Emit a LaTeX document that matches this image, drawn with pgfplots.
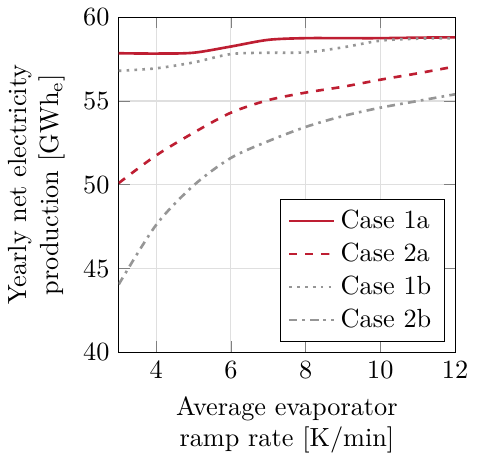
\documentclass[border=0pt]{standalone}
\usepackage{pgfplots}
\pgfplotsset{compat=1.18}
\definecolor{myred}{RGB}{190,30,50}
\definecolor{mygray}{RGB}{150,150,150}
\begin{document}
\begin{tikzpicture}
\begin{axis}[
  width=128pt, height=127.5pt, scale only axis,
  xmin=3, xmax=12, ymin=40, ymax=60,
  xtick={4,6,8,10,12}, ytick={40,45,50,55,60},
  grid=major, grid style={gray!25},
  xlabel={Average evaporator\\ramp rate [K/min]},
  ylabel={Yearly net electricity\\production [GWh$_\mathrm{e}$]},
  xlabel style={align=center},
  ylabel style={align=center},
  legend pos=south east,
  legend cell align=left,
  legend style={draw=black, fill=white},
  every axis plot/.append style={line width=1pt},
]
\addplot[myred, smooth] coordinates {(3,57.85) (4,57.83) (5,57.88) (6,58.25) (7,58.65) (8,58.75) (9,58.75) (10,58.75) (11,58.78) (12,58.8)};
\addlegendentry{Case 1a}
\addplot[myred, dashed, smooth] coordinates {(3,50.1) (4,51.75) (5,53.1) (6,54.3) (7,55.05) (8,55.5) (9,55.85) (10,56.27) (11,56.65) (12,57.06)};
\addlegendentry{Case 2a}
\addplot[mygray, dotted, smooth] coordinates {(3,56.8) (4,56.95) (5,57.3) (6,57.8) (7,57.88) (8,57.9) (9,58.2) (10,58.6) (11,58.72) (12,58.75)};
\addlegendentry{Case 1b}
\addplot[mygray, dashdotted, smooth] coordinates {(3,44.05) (4,47.6) (5,49.95) (6,51.6) (7,52.6) (8,53.45) (9,54.1) (10,54.6) (11,55.0) (12,55.4)};
\addlegendentry{Case 2b}
\end{axis}
\end{tikzpicture}
\end{document}
